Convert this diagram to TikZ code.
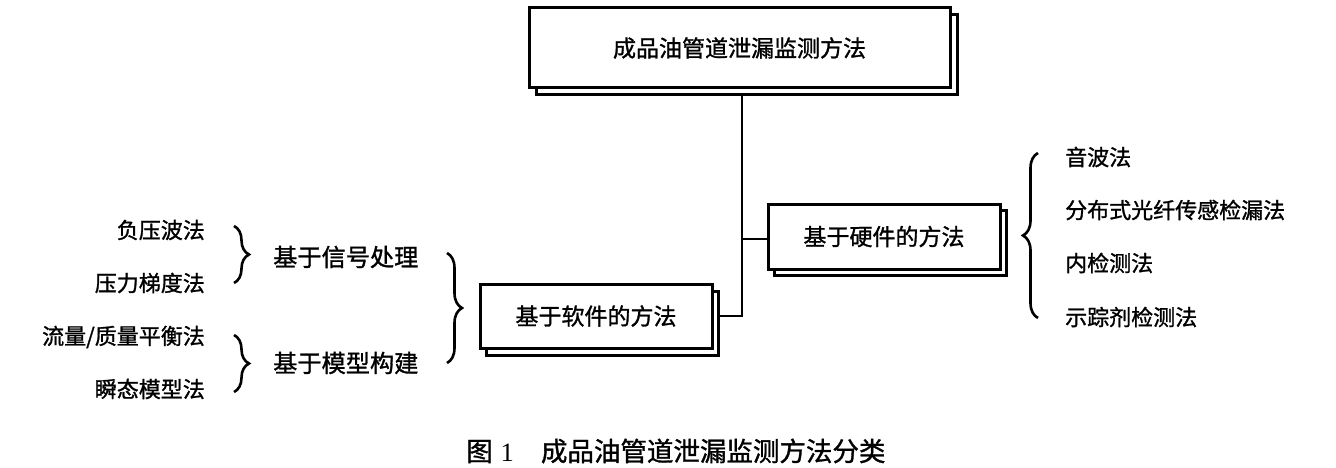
\documentclass[tikz,border=0pt]{standalone}
\usepackage{fontspec}
\setmainfont{Noto Sans CJK SC}[FakeBold=1.2]
\newfontfamily\capnum{Liberation Serif}
\usetikzlibrary{decorations.pathreplacing}
\begin{document}
\begin{tikzpicture}[x=1pt,y=-1pt,
  conn/.style={line width=2.8pt},
  boxmain/.style={draw,line width=3pt,fill=white,inner sep=0pt,font=\fontsize{23}{26}\selectfont},
  boxshadow/.style={draw,line width=3pt,fill=white,inner sep=0pt},
  lbl/.style={inner sep=0pt,font=\fontsize{22}{24}\selectfont},
  grp/.style={inner sep=0pt,font=\fontsize{24.2}{26}\selectfont},
  bracel/.style={line width=2.6pt,decorate,decoration={brace,amplitude=15pt}},
]
\useasboundingbox (0,0) rectangle (1336,468);
% top box
\node[boxshadow,minimum width=421pt,minimum height=80pt] (topS) at (746.5,55) {};
\node[boxmain,minimum width=421pt,minimum height=80pt] (top) at (739.5,48) {成品油管道泄漏监测方法};
% hardware box
\node[boxshadow,minimum width=232pt,minimum height=65pt] (hwS) at (890,243) {};
\node[boxmain,minimum width=232pt,minimum height=65pt] (hw) at (884,236.5) {基于硬件的方法};
% software box
\node[boxshadow,minimum width=232pt,minimum height=64pt] (swS) at (602,323) {};
\node[boxmain,minimum width=232pt,minimum height=64pt] (sw) at (596,316) {基于软件的方法};
% connectors
\coordinate (j1) at (742,239);
\coordinate (j2) at (742,316);
\draw[conn] (topS.south -| j1) -- (j2) -- (sw.east -| swS.east);
\draw[conn] (j1) -- (hw.west |- j1);
% left labels
\node[lbl,anchor=east] (a1) at (205,230) {负压波法};
\node[lbl,anchor=east] (a2) at (205,283) {压力梯度法};
\node[lbl,anchor=east] (a3) at (205,337) {流量/质量平衡法};
\node[lbl,anchor=east] (a4) at (205,389) {瞬态模型法};
\node[grp,anchor=west] (g1) at (273,257) {基于信号处理};
\node[grp,anchor=west] (g2) at (273,363) {基于模型构建};
\coordinate (b1t) at (234,226); \coordinate (b1b) at (234,283);
\coordinate (b2t) at (234,335); \coordinate (b2b) at (234,392);
\coordinate (b3t) at (447,253); \coordinate (b3b) at (447,363);
\draw[bracel] (b1t) -- (b1b);
\draw[bracel] (b2t) -- (b2b);
\draw[bracel] (b3t) -- (b3b);
% right labels
\node[lbl,anchor=west] (r1) at (1065,157) {音波法};
\node[lbl,anchor=west] (r2) at (1065,210) {分布式光纤传感检漏法};
\node[lbl,anchor=west] (r3) at (1065,263) {内检测法};
\node[lbl,anchor=west] (r4) at (1065,317) {示踪剂检测法};
\coordinate (b4t) at (1038,153); \coordinate (b4b) at (1038,318);
\draw[bracel] (b4b) -- (b4t);
% caption
\node[inner sep=0pt,font=\fontsize{26.5}{28}\selectfont,anchor=west] (cap) at (466,451) {图\hspace{8pt}{\capnum 1}\hspace{27pt}成品油管道泄漏监测方法分类};
\end{tikzpicture}
\end{document}
